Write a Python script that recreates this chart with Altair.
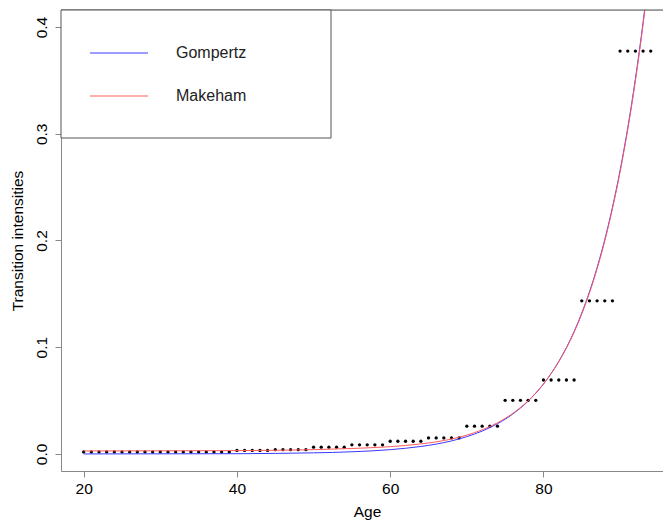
import altair as alt
import pandas as pd

# Observed 5-year group rates (dots), one dot per single age
group_starts = [20, 25, 30, 35, 40, 45, 50, 55, 60, 65, 70, 75, 80, 85, 90]
group_rates = [0.0019, 0.0019, 0.0019, 0.0019, 0.0033, 0.0040, 0.0063, 0.0085,
               0.0119, 0.0150, 0.0260, 0.0502, 0.0693, 0.1435, 0.3775]

# Fitted curves
curve_ages = [20, 30, 40, 45, 50, 55, 60, 62, 64, 66, 68, 70, 72, 74, 76, 78,
              80, 82, 84, 85, 86, 87, 88, 89, 90, 91, 92, 93, 94]
gompertz = [0.0000, 0.0001, 0.0002, 0.0005, 0.0010, 0.0020, 0.0040, 0.0053,
            0.0070, 0.0092, 0.0122, 0.0162, 0.0214, 0.0283, 0.0374, 0.0495,
            0.0655, 0.0867, 0.1147, 0.1320, 0.1518, 0.1746, 0.2008, 0.2310,
            0.2657, 0.3056, 0.3516, 0.4044, 0.4652]
makeham = [0.0028, 0.0029, 0.0031, 0.0034, 0.0040, 0.0051, 0.0068, 0.0079,
           0.0094, 0.0113, 0.0140, 0.0176, 0.0226, 0.0292, 0.0380, 0.0498,
           0.0655, 0.0864, 0.1140, 0.1312, 0.1508, 0.1735, 0.1995, 0.2297,
           0.2642, 0.3040, 0.3497, 0.4024, 0.4630]

x_ticks = [20, 40, 60, 80]
y_ticks = [0.0, 0.1, 0.2, 0.3, 0.4]

legend_labels = ["Gompertz", "Makeham"]
legend_colors = ["#3a3aff", "#ff5a5a"]

dot_rows = []
for s, r in zip(group_starts, group_rates):
    for a in range(s, s + 5):
        dot_rows.append({"age": a, "rate": r})
dots_df = pd.DataFrame(dot_rows)

curve_df = pd.DataFrame({"age": curve_ages, "gompertz": gompertz, "makeham": makeham})

W, H = 602, 461
AX = "#555555"
FONT = "Liberation Sans"

xs = alt.Scale(domain=[17.04, 95.6], nice=False, zero=False)
ys = alt.Scale(domain=[-0.016, 0.416], nice=False, zero=False)

x_axis = alt.Axis(values=x_ticks, title="Age", format="d", grid=False,
                  tickSize=6, labelPadding=4, titlePadding=8, titleX=306,
                  labelFontSize=15.5, titleFontSize=15.5, titleFontWeight=400)
y_axis = alt.Axis(values=y_ticks, title="Transition intensities", format=".1f",
                  grid=False, tickSize=6, labelAngle=270, labelAlign="center",
                  labelBaseline="bottom", labelPadding=6, titlePadding=9,
                  labelFontSize=15.5, titleFontSize=15.5, titleFontWeight=400)

points = alt.Chart(dots_df).mark_circle(size=11, color="black", opacity=1).encode(
    x=alt.X("age:Q", scale=xs, axis=x_axis),
    y=alt.Y("rate:Q", scale=ys, axis=y_axis),
)

gomp = alt.Chart(curve_df).mark_line(color=legend_colors[0], strokeWidth=1,
                                     clip=True, interpolate="monotone").encode(
    x=alt.X("age:Q", scale=xs), y=alt.Y("gompertz:Q", scale=ys))
make = alt.Chart(curve_df).mark_line(color=legend_colors[1], strokeWidth=1,
                                     clip=True, interpolate="monotone").encode(
    x=alt.X("age:Q", scale=xs), y=alt.Y("makeham:Q", scale=ys))

one = pd.DataFrame({"k": [0]})
top_line = alt.Chart(one).mark_rule(color=AX, strokeWidth=1).encode(
    x=alt.value(0), x2=alt.value(W), y=alt.value(0))

legend_box = alt.Chart(one).mark_rect(fill="white", stroke=AX, strokeWidth=1).encode(
    x=alt.value(0), x2=alt.value(270), y=alt.value(0), y2=alt.value(128))

legend_layers = [legend_box]
for i, (lab, col) in enumerate(zip(legend_labels, legend_colors)):
    yy = 43 + 43 * i
    legend_layers.append(
        alt.Chart(one).mark_rule(color=col, strokeWidth=1).encode(
            x=alt.value(29), x2=alt.value(87), y=alt.value(yy)))
    legend_layers.append(
        alt.Chart(one).mark_text(text=lab, align="left", baseline="middle",
                                 font=FONT, fontSize=16, color="#222222").encode(
            x=alt.value(115), y=alt.value(yy)))

chart = alt.layer(points, gomp, make, top_line, *legend_layers).properties(
    width=W, height=H,
    autosize=alt.AutoSizeParams(type="none"),
    padding={"left": 61, "top": 10, "right": 0, "bottom": 52},
).configure_view(stroke=None).configure_axis(
    domainColor=AX, tickColor=AX, labelColor="#222222", titleColor="#222222",
    labelFont=FONT, titleFont=FONT, domainWidth=1, tickWidth=1,
).configure(background="white")

chart.save("out.html", embed_options={"renderer": "svg", "actions": False})
